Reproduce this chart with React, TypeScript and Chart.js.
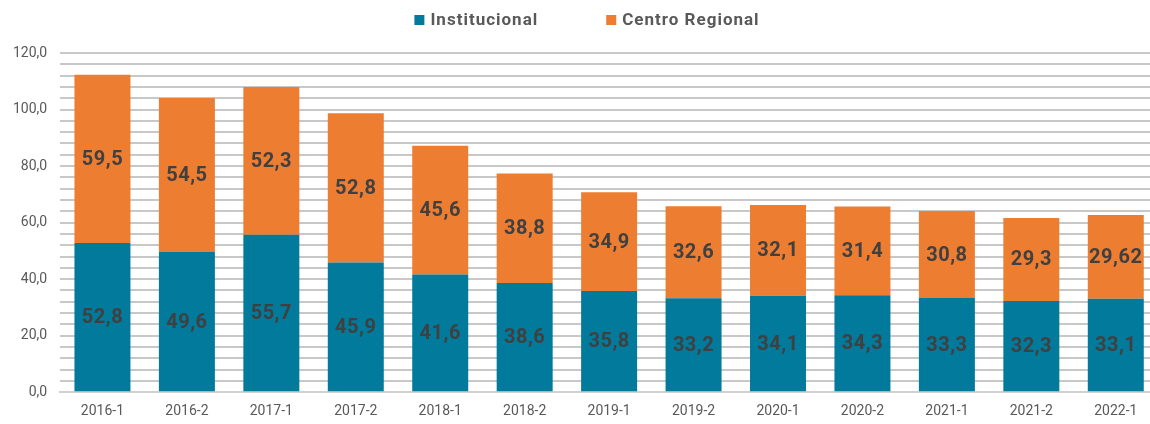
import React, { useEffect, useRef } from "react";
import { Chart, registerables } from "chart.js";

Chart.register(...registerables);

const categories = ["2016-1", "2016-2", "2017-1", "2017-2", "2018-1", "2018-2", "2019-1", "2019-2", "2020-1", "2020-2", "2021-1", "2021-2", "2022-1"];
const institucional = [52.8, 49.6, 55.7, 45.9, 41.6, 38.6, 35.8, 33.2, 34.1, 34.3, 33.3, 32.3, 33.1];
const centroRegional = [59.5, 54.5, 52.3, 52.8, 45.6, 38.8, 34.9, 32.6, 32.1, 31.4, 30.8, 29.3, 29.62];
const seriesNames = ["Institucional", "Centro Regional"];
const seriesColors = ["#027A9B", "#ED7D31"];

const FONT = "Roboto, 'DejaVu Sans', sans-serif";

const fmt = (v: number) => String(v).replace(".", ",");

const labelPlugin = {
  id: "barLabels",
  afterDatasetsDraw(chart: any) {
    const ctx = chart.ctx;
    ctx.save();
    ctx.font = `bold 20px ${FONT}`;
    (ctx as any).letterSpacing = "0.5px";
    ctx.fillStyle = "#404040";
    ctx.textAlign = "center";
    ctx.textBaseline = "middle";
    chart.data.datasets.forEach((ds: any, di: number) => {
      const meta = chart.getDatasetMeta(di);
      meta.data.forEach((bar: any, i: number) => {
        const y = (bar.y + bar.base) / 2;
        ctx.fillText(fmt(ds.data[i]), bar.x, y + 1);
      });
    });
    ctx.restore();
  },
};

const legendPlugin = {
  id: "customLegend",
  afterDraw(chart: any) {
    const ctx = chart.ctx;
    ctx.save();
    ctx.font = `bold 17px ${FONT}`;
    (ctx as any).letterSpacing = "1px";
    ctx.textBaseline = "middle";
    ctx.textAlign = "left";
    const box = 10;
    const gapText = 6;
    const gapItems = 68;
    const widths = seriesNames.map((n) => box + gapText + ctx.measureText(n).width);
    const total = widths[0] + gapItems + widths[1];
    let x = 575 + 12 - total / 2;
    const y = 20;
    seriesNames.forEach((n, i) => {
      ctx.fillStyle = seriesColors[i];
      ctx.fillRect(x, y - box / 2, box, box);
      ctx.fillStyle = "#595959";
      ctx.fillText(n, x + box + gapText, y + 1);
      x += widths[i] + gapItems;
    });
    ctx.restore();
  },
};

export default function App() {
  const ref = useRef<HTMLCanvasElement>(null);
  useEffect(() => {
    if (!ref.current) return;
    const chart = new Chart(ref.current, {
      type: "bar",
      data: {
        labels: categories,
        datasets: [
          { label: seriesNames[0], data: institucional, backgroundColor: seriesColors[0], barPercentage: 0.663, categoryPercentage: 1 },
          { label: seriesNames[1], data: centroRegional, backgroundColor: seriesColors[1], barPercentage: 0.663, categoryPercentage: 1 },
        ],
      },
      options: {
        animation: false,
        responsive: false,
        maintainAspectRatio: false,
        layout: { padding: { top: 53, left: 0, right: 0, bottom: 1 } },
        plugins: { legend: { display: false }, tooltip: { enabled: false } },
        scales: {
          x: {
            stacked: true,
            grid: { display: false },
            border: { display: true, color: "#d0d0d0", width: 2 },
            ticks: { color: "#595959", font: { family: FONT, size: 14 }, padding: 3 },
          },
          y: {
            stacked: true,
            min: 0,
            max: 120,
            border: { display: false },
            grid: { color: "#c8c8c8", lineWidth: 2, drawTicks: false },
            ticks: {
              stepSize: 4,
              autoSkip: false,
              color: "#595959",
              font: { family: FONT, size: 14 },
              padding: 13,
              callback: (v: any) => (Number(v) % 20 === 0 ? Number(v).toFixed(1).replace(".", ",") : ""),
            },
          },
        },
      },
      plugins: [labelPlugin, legendPlugin],
    });
    return () => chart.destroy();
  }, []);
  return (
    <div style={{ position: "fixed", left: 0, top: 0, width: 1150, height: 424, overflow: "hidden", background: "#fff" }}>
      <canvas ref={ref} width={1158} height={424} style={{ display: "block" }} />
    </div>
  );
}
